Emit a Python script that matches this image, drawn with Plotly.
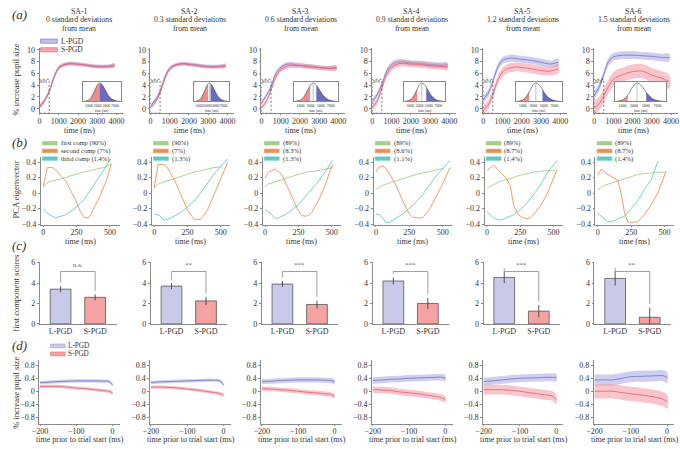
import plotly.graph_objects as go

SERIF = "Liberation Serif"
W, H = 680, 449

# ---------------- data ----------------
sa_titles = ["SA-1", "SA-2", "SA-3", "SA-4", "SA-5", "SA-6"]
sd_lines = ["0 standard deviations", "0.3 standard deviations", "0.6 standard deviations",
            "0.9 standard deviations", "1.2 standard deviations", "1.5 standard deviations"]
sd_values = [0, 0.3, 0.6, 0.9, 1.2, 1.5]

# (a) pupil time course
t_a = [0, 250, 500, 750, 1000, 1250, 1500, 1750, 2000, 2500, 3000, 3500, 3900]
a_long = [
    [0.4, 1.4, 3.0, 5.4, 7.0, 7.5, 7.7, 7.7, 7.6, 7.4, 7.2, 7.2, 7.4],
    [0.5, 1.5, 3.0, 5.4, 6.9, 7.4, 7.6, 7.7, 7.6, 7.4, 7.2, 7.2, 7.3],
    [1.0, 2.2, 3.8, 6.0, 7.0, 7.5, 7.6, 7.5, 7.4, 7.2, 7.0, 6.9, 7.0],
    [1.2, 2.4, 4.2, 6.4, 7.5, 7.9, 8.0, 7.9, 7.8, 7.7, 7.5, 7.4, 7.4],
    [1.6, 2.6, 4.6, 7.0, 8.2, 8.5, 8.6, 8.5, 8.4, 8.2, 7.9, 7.6, 7.9],
    [2.3, 3.6, 5.8, 8.0, 8.8, 9.0, 9.1, 9.1, 9.1, 9.0, 8.9, 8.7, 8.7],
]
a_short = [
    [0.3, 1.3, 2.9, 5.3, 6.9, 7.4, 7.6, 7.6, 7.55, 7.35, 7.15, 7.15, 7.35],
    [0.2, 1.1, 2.7, 5.1, 6.7, 7.3, 7.55, 7.6, 7.5, 7.3, 7.1, 7.1, 7.3],
    [0.2, 1.2, 3.2, 5.4, 6.6, 7.1, 7.3, 7.3, 7.3, 7.15, 7.0, 6.85, 6.9],
    [0.3, 1.3, 3.6, 5.8, 7.0, 7.5, 7.7, 7.7, 7.6, 7.5, 7.3, 7.2, 7.1],
    [-0.2, 0.6, 2.5, 4.8, 6.2, 6.8, 7.0, 7.1, 7.0, 6.8, 6.5, 6.4, 6.8],
    [0.2, 0.8, 2.2, 3.8, 5.0, 5.5, 5.8, 6.1, 6.3, 6.4, 5.7, 5.2, 4.6],
]
a_long_err = [0.3, 0.3, 0.35, 0.45, 0.6, 0.65]
a_short_err = [0.3, 0.3, 0.4, 0.55, 0.75, 1.2]

# inset: reaction-time distribution
dist_t = [0, 500, 1000, 1500, 2000, 2500, 3000, 3500, 4000, 4500, 5000, 5500, 6000, 6500, 7000, 7500, 8000]
dist_d = [0.0, 0.02, 0.07, 0.18, 0.38, 0.65, 0.9, 1.0, 0.93, 0.75, 0.52, 0.32, 0.17, 0.08, 0.035, 0.012, 0.0]
dist_mean = 3500
dist_sd = 1050
inset_ticks = [1000, 3000, 5000, 7000]

# (b) PCA eigenvectors: (time, value) per column
pca_first_t = [[0, 25, 50, 100, 150, 200, 250, 300, 350, 400, 450, 510]] * 6
pca_first_v = [
    [0.08, 0.13, 0.15, 0.17, 0.19, 0.22, 0.25, 0.27, 0.29, 0.31, 0.33, 0.37],
    [0.07, 0.11, 0.13, 0.16, 0.19, 0.22, 0.25, 0.27, 0.29, 0.31, 0.33, 0.34],
    [0.08, 0.12, 0.13, 0.16, 0.19, 0.22, 0.25, 0.27, 0.28, 0.29, 0.31, 0.33],
    [0.05, 0.08, 0.1, 0.13, 0.16, 0.19, 0.22, 0.24, 0.26, 0.28, 0.3, 0.32],
    [0.06, 0.09, 0.11, 0.15, 0.18, 0.2, 0.23, 0.25, 0.27, 0.28, 0.29, 0.29],
    [0.04, 0.08, 0.1, 0.13, 0.16, 0.19, 0.22, 0.24, 0.25, 0.26, 0.27, 0.27],
]
pca_second_t = [
    [0, 30, 70, 105, 170, 205, 240, 280, 310, 340, 365, 430, 480, 510],
    [0, 30, 60, 85, 110, 160, 200, 250, 300, 350, 400, 450, 500, 550],
    [0, 25, 75, 100, 125, 150, 200, 250, 275, 300, 325, 350, 400, 450, 505],
    [0, 25, 50, 75, 100, 150, 200, 250, 275, 300, 350, 400, 450, 500, 555],
    [0, 25, 50, 75, 100, 125, 150, 175, 200, 225, 250, 275, 300, 325, 350, 400, 450, 525],
    [0, 25, 50, 75, 100, 125, 150, 175, 200, 225, 250, 300, 350, 400, 450, 512],
]
pca_second_v = [
    [0.085, 0.33, 0.33, 0.28, 0.15, 0.04, -0.08, -0.25, -0.32, -0.32, -0.25, -0.02, 0.19, 0.38],
    [0.07, 0.37, 0.37, 0.36, 0.3, 0.14, -0.02, -0.22, -0.34, -0.34, -0.22, -0.02, 0.2, 0.39],
    [0.2, 0.27, 0.31, 0.28, 0.24, 0.15, -0.05, -0.23, -0.29, -0.3, -0.29, -0.25, -0.1, 0.1, 0.37],
    [0.27, 0.34, 0.35, 0.32, 0.25, 0.1, -0.1, -0.27, -0.31, -0.32, -0.32, -0.22, -0.05, 0.12, 0.33],
    [0.29, 0.33, 0.36, 0.32, 0.27, 0.23, 0.18, 0.1, -0.15, -0.25, -0.3, -0.32, -0.33, -0.32, -0.28, -0.17, -0.02, 0.3],
    [0.23, 0.31, 0.27, 0.24, 0.22, 0.19, 0.16, 0.0, -0.25, -0.37, -0.38, -0.37, -0.28, -0.15, 0.0, 0.28],
]
pca_third_t = [
    [0, 30, 70, 95, 170, 230, 305, 380, 455, 507],
    [0, 40, 75, 100, 150, 200, 250, 300, 350, 400, 450, 550],
    [0, 25, 50, 75, 100, 150, 200, 250, 300, 350, 400, 450, 505],
    [0, 25, 50, 75, 100, 150, 200, 250, 300, 350, 400, 450, 555],
    [0, 25, 50, 75, 100, 150, 200, 250, 300, 350, 400, 450, 525],
    [0, 25, 50, 75, 100, 150, 200, 250, 300, 350, 400, 450],
]
pca_third_v = [
    [-0.2, -0.26, -0.3, -0.32, -0.28, -0.21, -0.085, 0.1, 0.3, 0.44],
    [-0.27, -0.29, -0.35, -0.34, -0.3, -0.25, -0.18, -0.1, 0.0, 0.12, 0.25, 0.44],
    [-0.22, -0.24, -0.28, -0.33, -0.32, -0.28, -0.22, -0.15, -0.05, 0.05, 0.15, 0.27, 0.42],
    [-0.27, -0.28, -0.32, -0.38, -0.38, -0.33, -0.27, -0.2, -0.12, -0.02, 0.1, 0.22, 0.42],
    [-0.24, -0.28, -0.32, -0.34, -0.35, -0.32, -0.28, -0.22, -0.13, -0.02, 0.1, 0.25, 0.42],
    [-0.26, -0.3, -0.34, -0.37, -0.37, -0.33, -0.3, -0.2, -0.1, 0.05, 0.17, 0.41],
]
pca_labels = [
    ["first comp (90%)", "second comp (7%)", "third comp (1.4%)"],
    ["(90%)", "(7%)", "(1.3%)"],
    ["(89%)", "(8.3%)", "(1.3%)"],
    ["(89%)", "(8.6%)", "(1.1%)"],
    ["(89%)", "(8.7%)", "(1.4%)"],
    ["(89%)", "(8.7%)", "(1.4%)"],
]

# (c) first component scores
groups = ["L-PGD", "S-PGD"]
c_long = [3.4, 3.7, 3.9, 4.2, 4.55, 4.45]
c_long_err = [0.3, 0.3, 0.3, 0.35, 0.55, 0.7]
c_short = [2.6, 2.25, 1.9, 2.0, 1.25, 0.65]
c_short_err = [0.3, 0.4, 0.4, 0.55, 0.6, 0.95]
c_sig = ["n.s.", "**", "***", "***", "***", "**"]

# (d) pre-trial baseline
t_d = [-200, -175, -150, -125, -100, -75, -50, -25, -10, 0]
d_long = [
    [0.27, 0.28, 0.3, 0.31, 0.32, 0.32, 0.32, 0.31, 0.3, 0.2],
    [0.27, 0.29, 0.3, 0.31, 0.32, 0.33, 0.34, 0.34, 0.32, 0.2],
    [0.3, 0.31, 0.33, 0.34, 0.35, 0.35, 0.35, 0.34, 0.33, 0.3],
    [0.33, 0.35, 0.37, 0.38, 0.4, 0.41, 0.42, 0.43, 0.43, 0.4],
    [0.3, 0.32, 0.35, 0.38, 0.4, 0.41, 0.42, 0.43, 0.43, 0.42],
    [0.35, 0.35, 0.35, 0.4, 0.45, 0.46, 0.47, 0.48, 0.48, 0.42],
]
d_short = [
    [0.15, 0.15, 0.15, 0.13, 0.1, 0.08, 0.05, 0.02, 0.0, -0.05],
    [0.13, 0.13, 0.12, 0.1, 0.07, 0.04, 0.0, -0.04, -0.07, -0.12],
    [0.08, 0.07, 0.05, 0.03, 0.0, -0.03, -0.05, -0.08, -0.1, -0.15],
    [0.05, 0.04, 0.02, -0.02, -0.05, -0.08, -0.12, -0.16, -0.2, -0.25],
    [0.05, 0.05, 0.05, 0.03, 0.0, -0.04, -0.08, -0.12, -0.15, -0.25],
    [0.0, 0.0, 0.0, -0.04, -0.08, -0.11, -0.15, -0.2, -0.25, -0.32],
]
d_long_err = [0.05, 0.05, 0.08, 0.1, 0.12, 0.17]
d_short_err = [0.05, 0.05, 0.07, 0.1, 0.15, 0.22]

# ---------------- styling ----------------
LAV_FILL = "rgba(165,165,225,0.55)"
LAV_LINE = "#7373c2"
RED_FILL = "rgba(244,140,150,0.5)"
RED_LINE = "#e0607a"
BAR_L = "#c9c9ea"
BAR_S = "#f4a2a2"
INS_RED = "#f08c8c"
INS_BLUE = "#6b6bbf"
GREEN = "#a3cf8a"
ORANGE = "#f08f55"
TEAL = "#63cbc2"
AXC = "#8a8a8a"
TXT = "#333333"


def X(px):
    return px / W


def Yp(py):
    return 1 - py / H


fig = go.Figure()
layout = dict(width=W, height=H, margin=dict(l=0, r=0, t=0, b=0),
              paper_bgcolor="white", plot_bgcolor="white", showlegend=False,
              font=dict(family=SERIF, size=8, color=TXT))
annotations = []
shapes = []


def ids(n):
    return ("x" if n == 1 else f"x{n}"), ("y" if n == 1 else f"y{n}")


def add_axes(n, px0, px1, py0, py1, xr, yr, xkw=None, ykw=None):
    xa = "xaxis" if n == 1 else f"xaxis{n}"
    ya = "yaxis" if n == 1 else f"yaxis{n}"
    xid, yid = ids(n)
    base = dict(showline=True, linecolor=AXC, linewidth=0.8, ticks="outside", ticklen=2,
                tickcolor=AXC, tickwidth=0.8, tickfont=dict(family=SERIF, size=8, color=TXT),
                showgrid=False, zeroline=False, fixedrange=True, tickangle=0)
    xd = dict(base, domain=[X(px0), X(px1)], range=xr, anchor=yid)
    yd = dict(base, domain=[Yp(py1), Yp(py0)], range=yr, anchor=xid)
    if xkw:
        xd.update(xkw)
    if ykw:
        yd.update(ykw)
    layout[xa] = xd
    layout[ya] = yd


def band(n, x, y, e, fill, line):
    xid, yid = ids(n)
    if isinstance(e, (int, float)):
        e = [e] * len(y)
    up = [a + b for a, b in zip(y, e)]
    lo = [a - b for a, b in zip(y, e)]
    fig.add_trace(go.Scatter(x=list(x) + list(x)[::-1], y=up + lo[::-1], xaxis=xid, yaxis=yid,
                             fill="toself", fillcolor=fill, line=dict(width=0), mode="lines",
                             line_shape="spline", hoverinfo="skip"))
    fig.add_trace(go.Scatter(x=x, y=y, xaxis=xid, yaxis=yid, mode="lines",
                             line=dict(color=line, width=0.8, shape="spline"), hoverinfo="skip"))


def text(x, y, s, size=8, xanchor="center", yanchor="middle", angle=0, italic=False, color=TXT,
         xref="paper", yref="paper"):
    if italic:
        s = f"<i>{s}</i>"
    annotations.append(dict(x=x, y=y, xref=xref, yref=yref, text=s, showarrow=False,
                            xanchor=xanchor, yanchor=yanchor, textangle=angle, borderpad=0,
                            font=dict(family=SERIF, size=size, color=color)))


def rect_px(x0, y0, x1, y1, fill, line):
    shapes.append(dict(type="rect", xref="paper", yref="paper", x0=X(x0), x1=X(x1),
                       y0=Yp(y1), y1=Yp(y0), fillcolor=fill, line=dict(color=line, width=0.6)))


def interp(xs, ys, x):
    for i in range(len(xs) - 1):
        if xs[i] <= x <= xs[i + 1]:
            f = (x - xs[i]) / (xs[i + 1] - xs[i])
            return ys[i] + f * (ys[i + 1] - ys[i])
    return 0.0


inset_off = [(44, 83), (44, 80), (33, 78), (32, 74), (33, 80), (21, 73)]

for c in range(6):
    L = 32 + 112.4 * c

    # titles
    cx = L + 40
    text(X(cx), Yp(8.4), sa_titles[c], size=7.8)
    text(X(cx), Yp(17), sd_lines[c], size=7.8)
    text(X(cx), Yp(25.6), "from mean", size=7.8)

    # ---- row a ----
    n = 1 + c
    add_axes(n, L, L + 85, 45.9, 112.5, [0, 4359], [-0.8, 10.3],
             xkw=dict(tickvals=[0, 1000, 2000, 3000, 4000], ticklen=1, ticklabelstandoff=-1),
             ykw=dict(tickvals=[0, 2, 4, 6, 8, 10]))
    xid, yid = ids(n)
    band(n, t_a, a_long[c], a_long_err[c], LAV_FILL, LAV_LINE)
    band(n, t_a, a_short[c], a_short_err[c], RED_FILL, RED_LINE)
    shapes.append(dict(type="rect", xref=xid, yref=yid, x0=0, x1=500, y0=-0.75, y1=5,
                       line=dict(color="#444", width=0.7, dash="2px,2px")))
    text(250, 4.6, "ROI", size=4, xref=xid, yref=yid)
    text(X(L + 40), Yp(130), "time (ms)")

    # inset
    ni = 25 + c
    o0, o1 = inset_off[c]
    add_axes(ni, L + o0, L + o1, 80, 100, [-300, 8500], [0, 1.08],
             xkw=dict(mirror=True, ticks="", tickvals=inset_ticks, linewidth=0.6,
                      tickfont=dict(family=SERIF, size=4, color=TXT)),
             ykw=dict(mirror=True, ticks="", showticklabels=False, linewidth=0.6))
    xi, yi = ids(ni)
    lo_cut = dist_mean - sd_values[c] * dist_sd
    hi_cut = dist_mean + sd_values[c] * dist_sd
    rx = [t for t in dist_t if t < lo_cut] + [lo_cut]
    ry = [d for t, d in zip(dist_t, dist_d) if t < lo_cut] + [interp(dist_t, dist_d, lo_cut)]
    bx = [hi_cut] + [t for t in dist_t if t > hi_cut]
    by = [interp(dist_t, dist_d, hi_cut)] + [d for t, d in zip(dist_t, dist_d) if t > hi_cut]
    fig.add_trace(go.Scatter(x=rx, y=ry, xaxis=xi, yaxis=yi, mode="lines", fill="tozeroy",
                             fillcolor=INS_RED, line=dict(width=0), hoverinfo="skip"))
    fig.add_trace(go.Scatter(x=bx, y=by, xaxis=xi, yaxis=yi, mode="lines", fill="tozeroy",
                             fillcolor=INS_BLUE, line=dict(width=0), hoverinfo="skip"))
    fig.add_trace(go.Scatter(x=dist_t, y=dist_d, xaxis=xi, yaxis=yi, mode="lines",
                             line=dict(color="#444", width=0.6, shape="spline"), hoverinfo="skip"))
    fig.add_trace(go.Scatter(x=[dist_mean, dist_mean], y=[0, 1.0], xaxis=xi, yaxis=yi, mode="lines",
                             line=dict(color="#999", width=0.6), hoverinfo="skip"))
    text(X(L + (o0 + o1) / 2), Yp(109.5), "time (ms)", size=3.5)

    # ---- row b ----
    n = 7 + c
    add_axes(n, L + 1.3, L + 81, 157.3, 225.8, [-18, 572], [-0.41, 0.46],
             xkw=dict(tickvals=[0, 250, 500], ticklen=1, ticklabelstandoff=-1),
             ykw=dict(tickvals=[-0.4, -0.2, 0, 0.2, 0.4], ticktext=["\u22120.4", "\u22120.2", "0", "0.2", "0.4"]))
    xid, yid = ids(n)
    for tt, vv, col in [(pca_first_t[c], pca_first_v[c], GREEN),
                        (pca_second_t[c], pca_second_v[c], ORANGE),
                        (pca_third_t[c], pca_third_v[c], TEAL)]:
        fig.add_trace(go.Scatter(x=tt, y=vv, xaxis=xid, yaxis=yid, mode="lines",
                                 line=dict(color=col, width=0.9), hoverinfo="skip"))
    for k, (col, yy) in enumerate([(GREEN, 142.8), (ORANGE, 150.6), (TEAL, 158.4)]):
        rect_px(L + 3, yy - 1.8, L + 18, yy + 1.8, col, col)
        text(X(L + 20.5), Yp(yy), pca_labels[c][k], size=6.6, xanchor="left")
    text(X(L + 41), Yp(242.5), "time (ms)")

    # ---- row c ----
    n = 13 + c
    add_axes(n, L + 0.3, L + 78, 263.3, 326.7, [-0.6, 1.62], [0, 6.1],
             xkw=dict(tickvals=[0, 1], ticktext=groups, ticks=""),
             ykw=dict(tickvals=[0, 2, 4, 6]))
    xid, yid = ids(n)
    fig.add_trace(go.Bar(x=[0, 1], y=[c_long[c], c_short[c]], xaxis=xid, yaxis=yid, width=0.6,
                         marker=dict(color=[BAR_L, BAR_S], line=dict(color="#555", width=0.8)),
                         error_y=dict(type="data", array=[c_long_err[c], c_short_err[c]],
                                      thickness=0.9, width=0, color="#444"),
                         hoverinfo="skip"))
    top = 5.13
    ltop = c_long[c] + c_long_err[c] + 0.35
    stop = c_short[c] + c_short_err[c] + 0.35
    fig.add_trace(go.Scatter(x=[0, 0, 1, 1], y=[ltop, top, top, stop], xaxis=xid, yaxis=yid,
                             mode="lines", line=dict(color="#888", width=0.8), hoverinfo="skip"))
    text(0.5, top + 0.12, c_sig[c], size=7, yanchor="bottom", color="#666", xref=xid, yref=yid)

    # ---- row d ----
    n = 19 + c
    add_axes(n, L - 0.3, L + 81.3, 363.3, 428.3, [-202, 20], [-1.0, 0.97],
             xkw=dict(tickvals=[-200, -100, 0], ticktext=["\u2212200", "\u2212100", "0"], ticklen=1,
                      ticklabelstandoff=-1),
             ykw=dict(tickvals=[-0.8, -0.4, 0, 0.4, 0.8],
                      ticktext=["\u22120.8", "\u22120.4", "0", "0.4", "0.8"]))
    band(n, t_d, d_long[c], d_long_err[c], LAV_FILL, LAV_LINE)
    band(n, t_d, d_short[c], d_short_err[c], RED_FILL, RED_LINE)
    text(X(L + 41), Yp(444), "time prior to trial start (ms)")

# legends for (a) and (d)
rect_px(33, 36.7, 50, 41, "rgba(190,190,235,1)", LAV_LINE)
text(X(52.5), Yp(38.8), "L-PGD", size=7.5, xanchor="left")
rect_px(33, 45.5, 50, 49.8, "rgba(246,168,176,1)", RED_LINE)
text(X(52.5), Yp(47.8), "S-PGD", size=7.5, xanchor="left")
rect_px(43, 347.3, 58, 351, BAR_L, "#9a9ad0")
text(X(60), Yp(349), "L-PGD", size=7.2, xanchor="left")
rect_px(43, 355.3, 58, 359.3, BAR_S, "#e07a7a")
text(X(60), Yp(357.5), "S-PGD", size=7.2, xanchor="left")

# panel letters
for lab, yy in [("(a)", 12), ("(b)", 142), ("(c)", 247), ("(d)", 349)]:
    text(X(3), Yp(yy), lab, size=13, xanchor="left", italic=True)

# y-axis titles
for lab, yy in [("% increase pupil size", 78), ("PCA eigenvector", 190),
                ("first component scores", 295), ("% increase pupil size", 397)]:
    text(X(8), Yp(yy), lab, size=8.5, angle=-90)

layout["annotations"] = annotations
layout["shapes"] = shapes
fig.update_layout(**layout)
fig.write_html("out.html", config={"displayModeBar": False},
               post_script="document.body.style.margin='0px';document.body.style.overflow='hidden';")
